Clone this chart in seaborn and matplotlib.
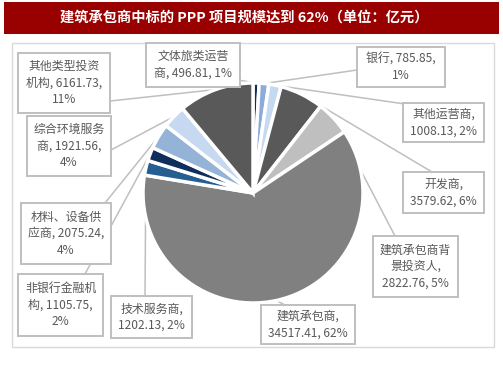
import matplotlib
matplotlib.use("Agg")
import matplotlib.pyplot as plt
from matplotlib.patches import Rectangle
import seaborn as sns
import numpy as np

sns.set_theme(style="white")
plt.rcParams['font.family'] = ['Noto Sans CJK SC', 'DejaVu Sans']

# ---- data (clockwise from 12 o'clock) ----
categories = ["文体旅类运营商", "银行", "其他运营商", "开发商", "建筑承包商背景投资人",
              "建筑承包商", "技术服务商", "非银行金融机构", "材料、设备供应商",
              "综合环境服务商", "其他类型投资机构"]
values = [496.81, 785.85, 1008.13, 3579.62, 2822.76, 34517.41, 1202.13, 1105.75,
          2075.24, 1921.56, 6161.73]
percents = ["1%", "1%", "2%", "6%", "5%", "62%", "2%", "2%", "4%", "4%", "11%"]
label_texts = [
    "文体旅类运营\n商, 496.81, 1%",
    "银行, 785.85,\n1%",
    "其他运营商,\n1008.13, 2%",
    "开发商,\n3579.62, 6%",
    "建筑承包商背\n景投资人,\n2822.76, 5%",
    "建筑承包商,\n34517.41, 62%",
    "技术服务商,\n1202.13, 2%",
    "非银行金融机\n构, 1105.75,\n2%",
    "材料、设备供\n应商, 2075.24,\n4%",
    "综合环境服务\n商, 1921.56,\n4%",
    "其他类型投资\n机构, 6161.73,\n11%",
]
title = "建筑承包商中标的 PPP 项目规模达到 62%（单位：亿元）"

colors = sns.color_palette(["#0f2c5a", "#8eaadb", "#c5d9f1", "#595959", "#bfbfbf",
                            "#808080", "#255e91", "#0e2f5c", "#95b3d7", "#c6d9f0",
                            "#595959"])

# layout (pixel coordinates, y downward)
W, H = 503, 378
cx, cy, r = 253, 193, 110
boxes = [  # left, top, right, bottom
    (146, 43, 240, 87),
    (357, 47, 445, 87),
    (403, 103, 484, 142),
    (403, 172, 484, 213),
    (373, 236, 458, 297),
    (261, 305, 355, 344),
    (111, 296, 192, 338),
    (18, 274, 103, 336),
    (21, 203, 111, 264),
    (27, 116, 111, 176),
    (18, 53, 110, 113),
]
attach = [(238, 80), (357, 70), (405, 104), (432, 172), (395, 236), (285, 305),
          (145, 296), (85, 274), (105, 203), (111, 150), (110, 101)]

fig = plt.figure(figsize=(W / 100, H / 100), dpi=100)
ax = fig.add_axes([0, 0, 1, 1])

def Y(y):
    return H - y

# title band
ax.add_patch(Rectangle((4, Y(34)), 495, 32, facecolor="#990000", edgecolor="none", zorder=1))
ax.text(244, Y(18), title, color="white", fontsize=10.3, fontweight="bold",
        ha="center", va="center", zorder=2)
# outer frame
ax.add_patch(Rectangle((12, Y(347)), 482, 304, facecolor="white", edgecolor="#d9d9d9",
                       lw=1, zorder=0.5))

# pie
wedges, _ = ax.pie(values, colors=colors, startangle=90, counterclock=False,
                   center=(cx, Y(cy)), radius=r, frame=True,
                   wedgeprops=dict(edgecolor="white", linewidth=2.5, zorder=3))
for w in wedges:
    w.set_zorder(3)

# leader lines and label boxes
total = sum(values)
cum = np.cumsum([0] + values)
for i, txt in enumerate(label_texts):
    mid = (cum[i] + cum[i + 1]) / 2 / total * 360
    th = np.deg2rad(mid)
    px = cx + r * np.sin(th)
    py = cy - r * np.cos(th)
    ax.plot([attach[i][0], px], [Y(attach[i][1]), Y(py)], color="#bfbfbf", lw=1.1, zorder=2)
    l, t, rr, b = boxes[i]
    ax.add_patch(Rectangle((l, Y(b)), rr - l, b - t, facecolor="white",
                           edgecolor="#bfbfbf", lw=1.4, zorder=4))
    ax.text((l + rr) / 2, Y((t + b) / 2), txt, color="#595959", fontsize=8.6,
            ha="center", va="center", multialignment="center", linespacing=1.35,
            zorder=5)

ax.set_xlim(0, W)
ax.set_ylim(0, H)
ax.set_aspect("equal")
ax.axis("off")
fig.savefig("out.png", dpi=100, facecolor="white")
